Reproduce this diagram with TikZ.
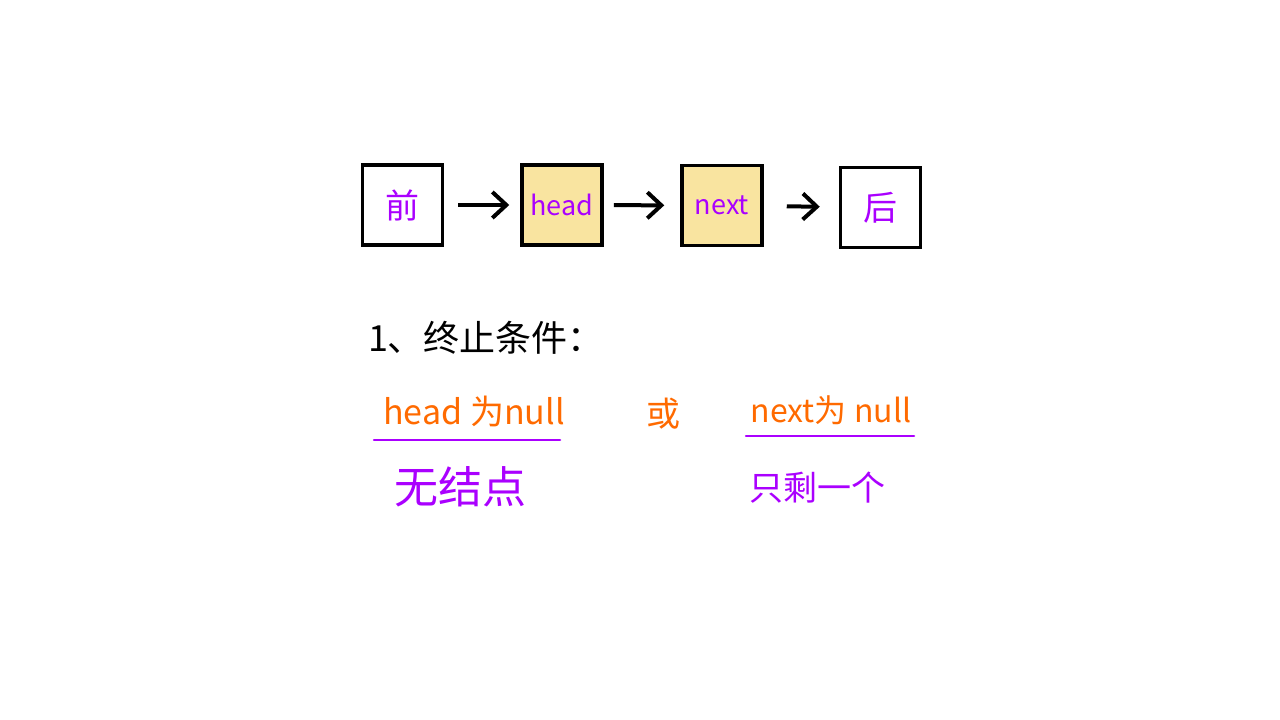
\documentclass[tikz,border=0pt]{standalone}
\usepackage{fontspec}
\usepackage{xcolor}
\usepackage{tikz}
\usetikzlibrary{arrows.meta}
\setmainfont{Noto Sans CJK SC}
\definecolor{notepurple}{RGB}{170, 0, 255}
\definecolor{noteorange}{RGB}{255, 106, 0}
\definecolor{nodefill}{RGB}{249, 228, 160}

\begin{document}
\begin{tikzpicture}[x=1pt, y=-1pt,
  listbox/.style={draw=black, line width=3.5pt, minimum width=80pt, minimum height=80pt, inner sep=0pt},
  nextarrow/.style={-{Straight Barb[length=14pt, width=26pt]}, line width=4pt, black},
  purpletext/.style={text=notepurple, inner sep=0pt},
  orangetext/.style={text=noteorange, inner sep=0pt},
  uline/.style={notepurple, line width=2.5pt, line cap=round}]
\useasboundingbox (0,0) rectangle (1280,720);
% Visual representation of the list
\node[listbox, purpletext, fill=white] (prev) at (402.5,205) {\fontsize{34}{40}\selectfont 前};
\node[listbox, purpletext, fill=nodefill] (head) at (562,205) {\fontsize{27}{32}\selectfont head};
\node[listbox, purpletext, fill=nodefill] (next) at (722,205.5) {\fontsize{27}{32}\selectfont next};
\node[listbox, purpletext, fill=white] (post) at (880.5,207.5) {\fontsize{34}{40}\selectfont 后};

% Connecting arrows
\draw[nextarrow, shorten <=14pt, shorten >=11pt] (prev) -- (head);
\draw[nextarrow, shorten <=10pt, shorten >=16pt] (head) -- (next);
\draw[nextarrow, shorten <=23pt, shorten >=19pt] (next) -- (post);

% Termination conditions
\node[inner sep=0pt] (cond) at (486,338) {\fontsize{36}{42}\selectfont 1、终止条件：};
\node[orangetext] (headnull) at (474,411) {\fontsize{34}{40}\selectfont head 为null};
\node[orangetext] (either) at (663,414) {\fontsize{34}{40}\selectfont 或};
\node[orangetext] (nextnull) at (831,410) {\fontsize{32}{38}\selectfont next为 null};
\draw[uline] (374,440) -- (560,440);
\draw[uline] (746,436) -- (914,436);
\node[purpletext] (nonode) at (460,487) {\fontsize{44}{50}\selectfont 无结点};
\node[purpletext] (onlyone) at (817,488) {\fontsize{34}{40}\selectfont 只剩一个};
\end{tikzpicture}
\end{document}
